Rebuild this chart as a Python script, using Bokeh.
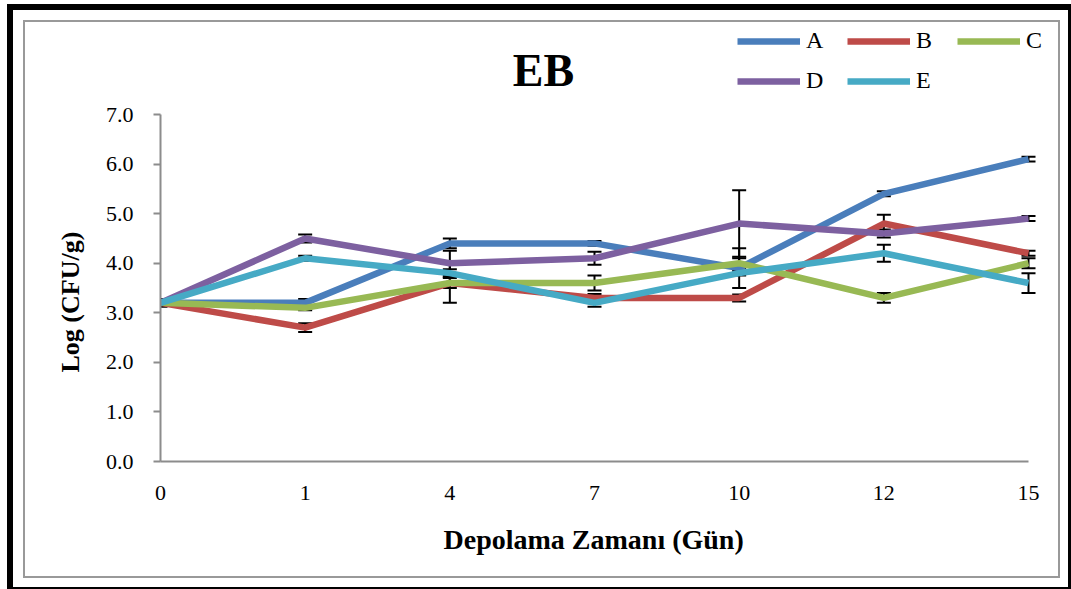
from bokeh.plotting import figure
from bokeh.models import (Range1d, FixedTicker, NumeralTickFormatter, Legend, LegendItem,
                          ColumnDataSource, Whisker, TeeHead, InlineStyleSheet, Label, Title)
from bokeh.embed import file_html
from bokeh.resources import INLINE

# Storage days and log counts per sample group
days = ["0", "1", "4", "7", "10", "12", "15"]
A = [3.2, 3.2, 4.4, 4.4, 3.9, 5.4, 6.1]
B = [3.2, 2.7, 3.6, 3.3, 3.3, 4.8, 4.2]
C = [3.2, 3.1, 3.6, 3.6, 4.0, 3.3, 4.0]
D = [3.2, 4.5, 4.0, 4.1, 4.8, 4.6, 4.9]
E = [3.2, 4.1, 3.8, 3.2, 3.8, 4.2, 3.6]

# Standard deviations
A_err = [0.08, 0.08, 0.10, 0.05, 0.40, 0.05, 0.05]
B_err = [0.05, 0.09, 0.40, 0.08, 0.07, 0.18, 0.05]
C_err = [0.05, 0.05, 0.10, 0.15, 0.10, 0.10, 0.10]
D_err = [0.05, 0.08, 0.25, 0.13, 0.67, 0.08, 0.05]
E_err = [0.05, 0.05, 0.08, 0.08, 0.05, 0.17, 0.20]

y_ticks = [0, 1, 2, 3, 4, 5, 6, 7]

series = [("A", A, A_err, "#4a7ebb"),
          ("B", B, B_err, "#be4b48"),
          ("C", C, C_err, "#98b954"),
          ("D", D, D_err, "#7d60a0"),
          ("E", E, E_err, "#46aac5")]

xs = list(range(len(days)))
FONT = "Liberation Serif"

# Plot area in pixels; the frame reaches up/right past the axes so that
# the title and legend sit inside it, while axis bounds stop at the data.
W, H = 1071, 589
LEFT, RIGHT, TOP, BOTTOM = 160, 1056, 22, 461
AX_RIGHT, AX_TOP = 1028, 114
x_max = (len(days) - 1) * (RIGHT - LEFT) / (AX_RIGHT - LEFT)
y_max = y_ticks[-1] * (BOTTOM - TOP) / (BOTTOM - AX_TOP)

p = figure(width=W, height=H, output_backend="svg", toolbar_location=None,
           title_location=None,
           x_range=Range1d(0, x_max), y_range=Range1d(0, y_max),
           min_border_left=LEFT, min_border_right=W - RIGHT, min_border_top=TOP,
           min_border_bottom=H - BOTTOM)
p.background_fill_color = "white"
p.border_fill_color = "white"
p.outline_line_color = None
p.xgrid.visible = False
p.ygrid.visible = False

# axes
for ax in (p.xaxis[0], p.yaxis[0]):
    ax.axis_line_color = "#8c8c8c"
    ax.axis_line_width = 2
    ax.major_tick_line_color = "#8c8c8c"
    ax.major_tick_line_width = 2
    ax.minor_tick_line_color = None
    ax.major_label_text_font = FONT
    ax.major_label_text_font_size = "22px"
    ax.major_label_text_color = "black"

p.xaxis.bounds = (0, len(days) - 1)
p.xaxis.ticker = FixedTicker(ticks=xs)
p.xaxis.major_label_overrides = {i: d for i, d in enumerate(days)}
p.xaxis.major_tick_out = 0
p.xaxis.major_tick_in = 0
p.xaxis.major_label_standoff = 24

p.yaxis.bounds = (y_ticks[0], y_ticks[-1])
p.yaxis.ticker = FixedTicker(ticks=y_ticks)
p.yaxis.formatter = NumeralTickFormatter(format="0.0")
p.yaxis.major_tick_out = 7
p.yaxis.major_tick_in = 0
p.yaxis.major_label_standoff = 20

# axis titles
p.add_layout(Title(text="Log (CFU/g)", align="left", offset=89, standoff=36,
                   text_font=FONT, text_font_style="bold", text_font_size="26px",
                   text_color="black"), "left")
p.add_layout(Title(text="Depolama Zamanı (Gün)", align="left", offset=283, standoff=38,
                   text_font=FONT, text_font_style="bold", text_font_size="28px",
                   text_color="black"), "below")

items = []
for name, vals, errs, color in series:
    r = p.line(xs, vals, line_color=color, line_width=6.5, line_join="round")
    items.append(LegendItem(label=name, renderers=[r]))

# error bars
for name, vals, errs, color in series:
    src = ColumnDataSource(dict(x=xs,
                                upper=[v + e for v, e in zip(vals, errs)],
                                lower=[v - e for v, e in zip(vals, errs)]))
    w = Whisker(base="x", upper="upper", lower="lower", source=src,
                line_color="black", line_width=2,
                upper_head=TeeHead(size=14, line_color="black", line_width=2),
                lower_head=TeeHead(size=14, line_color="black", line_width=2))
    p.add_layout(w)

legend = Legend(items=items, ncols=3, orientation="horizontal",
                location=(737 - LEFT, BOTTOM - 94), padding=0, margin=0, spacing=13,
                glyph_width=63, glyph_height=18, label_height=18, label_width=28,
                label_standoff=6, label_text_font=FONT, label_text_color="black",
                label_text_font_size="24px", border_line_color=None,
                background_fill_alpha=0)
p.add_layout(legend, "center")

# chart title
p.add_layout(Label(x=543 - LEFT, y=BOTTOM - 70, x_units="screen", y_units="screen",
                   text="EB", text_font=FONT, text_font_style="bold",
                   text_font_size="46px", text_align="center",
                   text_baseline="alphabetic", text_color="black"))

# outer page frame and chart-area frame
p.stylesheets = [InlineStyleSheet(css="""
:host::before {
  content: ""; position: absolute; box-sizing: border-box;
  left: 7px; top: 4px; width: 1064px; height: 585px;
  border-style: solid; border-color: #000;
  border-width: 6px 3px 2px 6px;
  pointer-events: none; z-index: 5;
}
:host::after {
  content: ""; position: absolute; box-sizing: border-box;
  left: 23px; top: 20px; width: 1037px; height: 558px;
  border: 2px solid #999;
  pointer-events: none; z-index: 5;
}
""")]

open("out.html", "w").write(file_html(p, INLINE))
